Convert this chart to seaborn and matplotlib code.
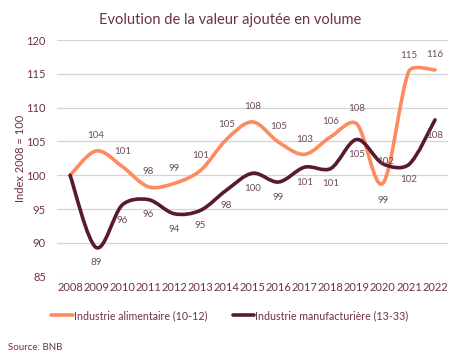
import matplotlib
matplotlib.use("Agg")
import matplotlib.pyplot as plt
from matplotlib.path import Path
from matplotlib.patches import PathPatch
from matplotlib.lines import Line2D
import numpy as np
import pandas as pd
import seaborn as sns

# données (indice 2008 = 100)
years = list(range(2008, 2023))
alimentaire = [100, 103.6, 101.3, 98.3, 98.8, 100.7, 105.3, 107.9, 104.9, 103.1,
               105.7, 107.6, 98.8, 115.4, 115.6]
manufacturiere = [100, 89.3, 95.6, 96.4, 94.3, 94.8, 97.8, 100.3, 99.0, 101.2,
                  101.0, 105.3, 101.7, 101.6, 108.2]
series_names = ["Industrie alimentaire (10-12)", "Industrie manufacturière (13-33)"]
colors = ["#FF8A5E", "#581A33"]

TEXT = "#6E2F4F"
LABEL = "#6E4A5E"

df = pd.DataFrame({
    "year": years * 2,
    "value": alimentaire + manufacturiere,
    "serie": [series_names[0]] * len(years) + [series_names[1]] * len(years),
})


def _arm(v, seg, k=0.33):
    # bras de contrôle limité à k * longueur du segment voisin
    n = np.linalg.norm(v)
    if n > k * seg:
        v = v * (k * seg / n)
    return v


def smooth_path(ax, xy):
    # courbe lissée type Excel (Bezier passant par les points, en pixels)
    p = ax.transData.transform(xy)
    n = len(p)
    verts = [p[0]]
    codes = [Path.MOVETO]
    for i in range(n - 1):
        a = p[i - 1] if i > 0 else p[i]
        b = p[i + 2] if i + 2 < n else p[i + 1]
        seg = np.linalg.norm(p[i + 1] - p[i])
        c1 = p[i] + _arm((p[i + 1] - a) / 6, seg)
        c2 = p[i + 1] - _arm((b - p[i]) / 6, seg)
        verts += [c1, c2, p[i + 1]]
        codes += [Path.CURVE4] * 3
    verts = ax.transData.inverted().transform(np.array(verts))
    return Path(verts, codes)


sns.set_theme(style="white")
plt.rcParams["font.family"] = ["Lato", "DejaVu Sans"]

fig = plt.figure(figsize=(4.6, 3.62), dpi=100)
ax = fig.add_axes([0.124, 0.236, 0.850, 0.653])

sns.lineplot(data=df, x="year", y="value", hue="serie", palette=colors,
             legend=False, ax=ax)
ax.set_xlim(2007.5, 2022.5)
ax.set_ylim(85, 120)

for line in list(ax.lines):
    xy = line.get_xydata()
    col = line.get_color()
    line.set_visible(False)
    ax.add_patch(PathPatch(smooth_path(ax, xy), facecolor="none", edgecolor=col,
                           lw=2.6, capstyle="round", joinstyle="round", zorder=3))

# étiquettes de valeurs
for y, v in zip(years[1:], alimentaire[1:]):
    off = -12 if y == 2020 else 11
    ax.annotate(f"{v:.0f}", (y, v), xytext=(0, off), textcoords="offset points",
                ha="center", va="center", fontsize=7, color=LABEL)
for y, v in zip(years[1:], manufacturiere[1:]):
    off = 2 if y == 2020 else -11
    dx = 2 if y == 2020 else 0
    ax.annotate(f"{v:.0f}", (y, v), xytext=(dx, off), textcoords="offset points",
                ha="center", va="center", fontsize=7, color=LABEL)

ax.set_yticks(range(85, 121, 5))
ax.set_xticks(years)
ax.set_xticklabels([str(y) for y in years])
ax.grid(axis="y", color="#D4D4D4", lw=0.9)
ax.grid(axis="x", visible=False)
for s in ax.spines.values():
    s.set_visible(False)
ax.tick_params(axis="both", length=0, labelsize=8, colors=TEXT, pad=4)
ax.tick_params(axis="y", pad=8)
ax.set_xlabel("")
ax.set_ylabel("Index 2008 = 100", fontsize=8, color=TEXT, labelpad=0)

fig.suptitle("Evolution de la valeur ajoutée en volume", x=0.5, y=0.965,
             fontsize=10.5, color=TEXT)

handles = [Line2D([], [], color=c, lw=2.6) for c in colors]
fig.legend(handles, series_names, loc="center", bbox_to_anchor=(0.5, 0.128),
           ncol=2, frameon=False, fontsize=7.7, labelcolor=TEXT,
           handlelength=2.0, handletextpad=0.1, columnspacing=2.4)

fig.text(0.017, 0.033, "Source: BNB", fontsize=7, color=TEXT)

fig.savefig("out.png", dpi=100)
